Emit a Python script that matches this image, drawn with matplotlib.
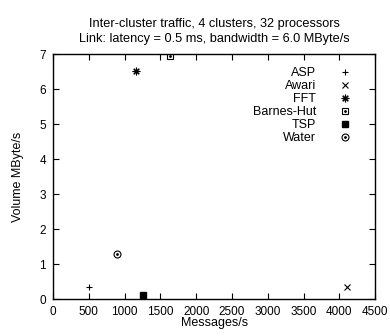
import matplotlib
matplotlib.use("Agg")
import matplotlib.pyplot as plt

plt.rcParams['font.family'] = ['Liberation Sans', 'DejaVu Sans']
plt.rcParams['font.size'] = 9

# application, messages/s, volume MByte/s
apps = ["ASP", "Awari", "FFT", "Barnes-Hut", "TSP", "Water"]
msgs = [500, 4100, 1160, 1635, 1255, 890]
volume = [0.35, 0.35, 6.53, 6.94, 0.12, 1.28]

fig, ax = plt.subplots(figsize=(3.9, 3.36), dpi=100)
fig.subplots_adjust(left=0.136, right=0.962, top=0.839, bottom=0.11)

handles = []
# ASP
h, = ax.plot(msgs[0], volume[0], ls="none", marker="+", color="black", ms=5, mew=0.8)
handles.append(h)
# Awari
h, = ax.plot(msgs[1], volume[1], ls="none", marker="x", color="black", ms=4.5, mew=0.8)
handles.append(h)
# FFT
h, = ax.plot(msgs[2], volume[2], ls="none", marker=(8, 2, 0), color="black", ms=5.5, mew=0.8)
handles.append(h)
# Barnes-Hut
h1, = ax.plot(msgs[3], volume[3], ls="none", marker="s", mfc="none", mec="black", ms=5, mew=0.8)
h2, = ax.plot(msgs[3], volume[3], ls="none", marker="o", color="black", ms=1)
handles.append((h1, h2))
# TSP
h, = ax.plot(msgs[4], volume[4], ls="none", marker="s", color="black", ms=4.5)
handles.append(h)
# Water
h1, = ax.plot(msgs[5], volume[5], ls="none", marker="o", mfc="none", mec="black", ms=5, mew=0.8)
h2, = ax.plot(msgs[5], volume[5], ls="none", marker="o", color="black", ms=1)
handles.append((h1, h2))

ax.legend(handles, apps, loc="upper right", bbox_to_anchor=(0.935, 0.947),
          frameon=False, markerfirst=False,
          handlelength=1.46, handletextpad=1.6, labelspacing=0.08,
          borderpad=0, borderaxespad=0, fontsize=9)

ax.set_xlim(0, 4500)
ax.set_ylim(0, 7)
ax.set_xticks(range(0, 4501, 500))
ax.set_yticks(range(0, 8))
ax.tick_params(direction="in", top=True, right=True, length=4, width=0.8,
               labelsize=8.5, pad=5)
for s in ax.spines.values():
    s.set_linewidth(1)

ax.set_xlabel("Messages/s", fontsize=9, labelpad=-1)
ax.set_ylabel("Volume MByte/s", fontsize=9, labelpad=11)
ax.set_title("Inter-cluster traffic, 4 clusters, 32 processors\nLink: latency = 0.5 ms, bandwidth = 6.0 MByte/s",
             fontsize=9.2, linespacing=1.3, pad=9)

fig.savefig("out.png", dpi=100)
